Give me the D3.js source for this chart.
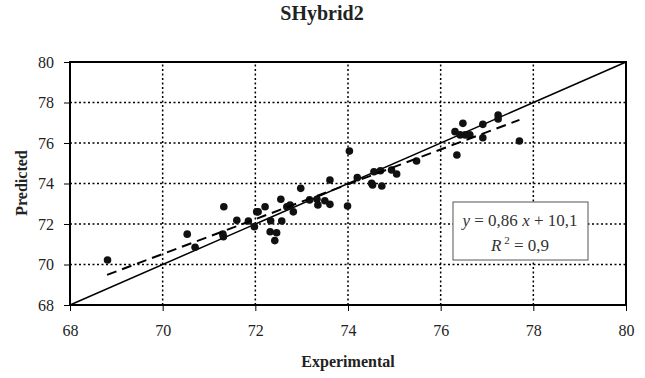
<!DOCTYPE html>
<html><head><meta charset="utf-8">
<script src="https://cdn.jsdelivr.net/npm/d3@7"></script>
<style>body{margin:0;background:#fff}</style>
</head><body>
<svg id="c" width="645" height="378"></svg>
<script>
const title = "SHybrid2";
const xLabel = "Experimental";
const yLabel = "Predicted";
const ticks = [68, 70, 72, 74, 76, 78, 80];
const experimental = [68.81,70.53,71.32,71.6,71.31,70.7,71.85,72.03,71.98,71.3,
  72.06,72.21,72.33,72.32,72.46,72.42,72.55,72.57,72.68,72.75,72.82,72.98,73.17,73.33,73.35,73.5,73.61,73.61,73.99,
  74.03,74.2,74.53,74.73,74.56,74.7,74.94,75.05,75.48,74.51,
  76.48,76.31,76.42,76.53,76.63,76.35,76.91,76.91,77.24,77.24,77.7];
const predicted = [70.22,71.5,72.85,72.18,71.37,70.85,72.15,72.6,71.87,71.5,
  72.6,72.85,72.16,71.62,71.57,71.18,73.22,72.15,72.85,72.94,72.6,73.76,73.19,73.22,72.94,73.15,74.17,72.97,72.89,
  75.6,74.29,73.93,73.88,74.58,74.63,74.67,74.47,75.11,74.01,
  76.97,76.56,76.4,76.4,76.4,75.41,76.92,76.26,77.38,77.19,76.1];
const trend = {slope: 0.86, intercept: 10.32};
const trendRange = [68.8, 77.7];
const eqLines = ["0,86", "10,1", "0,9"];

const FONT = "'Liberation Serif','Times New Roman',Times,serif";
const svg = d3.select("#c");
const x = d3.scaleLinear().domain([68, 80]).range([70, 626]);
const y = d3.scaleLinear().domain([68, 80]).range([305, 62]);

// grid
const g = svg.append("g");
ticks.slice(1, -1).forEach(t => {
  g.append("line").attr("x1", x(t)).attr("x2", x(t)).attr("y1", y(68)).attr("y2", y(80))
    .attr("stroke", "#000").attr("stroke-width", 1.5).attr("stroke-dasharray", "2,2.5");
  g.append("line").attr("x1", x(68)).attr("x2", x(80)).attr("y1", y(t)).attr("y2", y(t))
    .attr("stroke", "#000").attr("stroke-width", 1.5).attr("stroke-dasharray", "2,2.5");
});

// axes
const xa = svg.append("g").attr("transform", `translate(0,${y(68)})`)
  .call(d3.axisBottom(x).tickValues(ticks).tickSize(6).tickPadding(14).tickFormat(d3.format("d")));
const ya = svg.append("g").attr("transform", `translate(${x(68)},0)`)
  .call(d3.axisLeft(y).tickValues(ticks).tickSize(6).tickPadding(10).tickFormat(d3.format("d")));
[xa, ya].forEach(a => {
  a.attr("font-family", FONT).attr("font-size", 16);
  a.select(".domain").remove();
  a.selectAll("line").attr("stroke", "#000").attr("stroke-width", 1);
  a.selectAll("text").style("font-family", FONT).attr("font-size", 16).attr("fill", "#222");
});

// frame
svg.append("rect").attr("x", x(68)).attr("y", y(80)).attr("width", x(80) - x(68)).attr("height", y(68) - y(80))
  .attr("fill", "none").attr("stroke", "#000").attr("stroke-width", 2);

// y = x line
svg.append("line").attr("x1", x(68)).attr("y1", y(68)).attr("x2", x(80)).attr("y2", y(80))
  .attr("stroke", "#000").attr("stroke-width", 1.5);

// points
svg.append("g").selectAll("circle").data(experimental).join("circle")
  .attr("cx", d => x(d)).attr("cy", (d, i) => y(predicted[i])).attr("r", 3.8).attr("fill", "#111");

// trend line
svg.append("line")
  .attr("x1", x(trendRange[0])).attr("y1", y(trend.slope * trendRange[0] + trend.intercept))
  .attr("x2", x(trendRange[1])).attr("y2", y(trend.slope * trendRange[1] + trend.intercept))
  .attr("stroke", "#000").attr("stroke-width", 2).attr("stroke-dasharray", "10,6");

// equation box
svg.append("rect").attr("x", 453).attr("y", 202).attr("width", 135).attr("height", 58)
  .attr("fill", "#fff").attr("stroke", "#555").attr("stroke-width", 1);
const t1 = svg.append("text").attr("x", 520).attr("y", 226).attr("text-anchor", "middle")
  .style("font-family", FONT).attr("font-size", 17).attr("fill", "#333");
t1.append("tspan").attr("font-style", "italic").text("y");
t1.append("tspan").text(" = " + eqLines[0] + " ");
t1.append("tspan").attr("font-style", "italic").text("x");
t1.append("tspan").text(" + " + eqLines[1]);
const t2 = svg.append("text").attr("x", 520).attr("y", 251).attr("text-anchor", "middle")
  .style("font-family", FONT).attr("font-size", 17).attr("fill", "#333");
t2.append("tspan").attr("font-style", "italic").text("R");
t2.append("tspan").attr("font-size", 11).attr("dy", -7).text(" 2");
t2.append("tspan").attr("dy", 7).text(" = " + eqLines[2]);

// titles
svg.append("text").attr("x", 322).attr("y", 20).attr("text-anchor", "middle")
  .style("font-family", FONT).attr("font-weight", "bold").attr("font-size", 20).attr("fill", "#222").text(title);
svg.append("text").attr("x", 348).attr("y", 367).attr("text-anchor", "middle")
  .style("font-family", FONT).attr("font-weight", "bold").attr("font-size", 16).attr("fill", "#222").text(xLabel);
svg.append("text").attr("transform", "translate(27,183) rotate(-90)").attr("text-anchor", "middle")
  .style("font-family", FONT).attr("font-weight", "bold").attr("font-size", 16).attr("fill", "#222").text(yLabel);
</script>
</body></html>
